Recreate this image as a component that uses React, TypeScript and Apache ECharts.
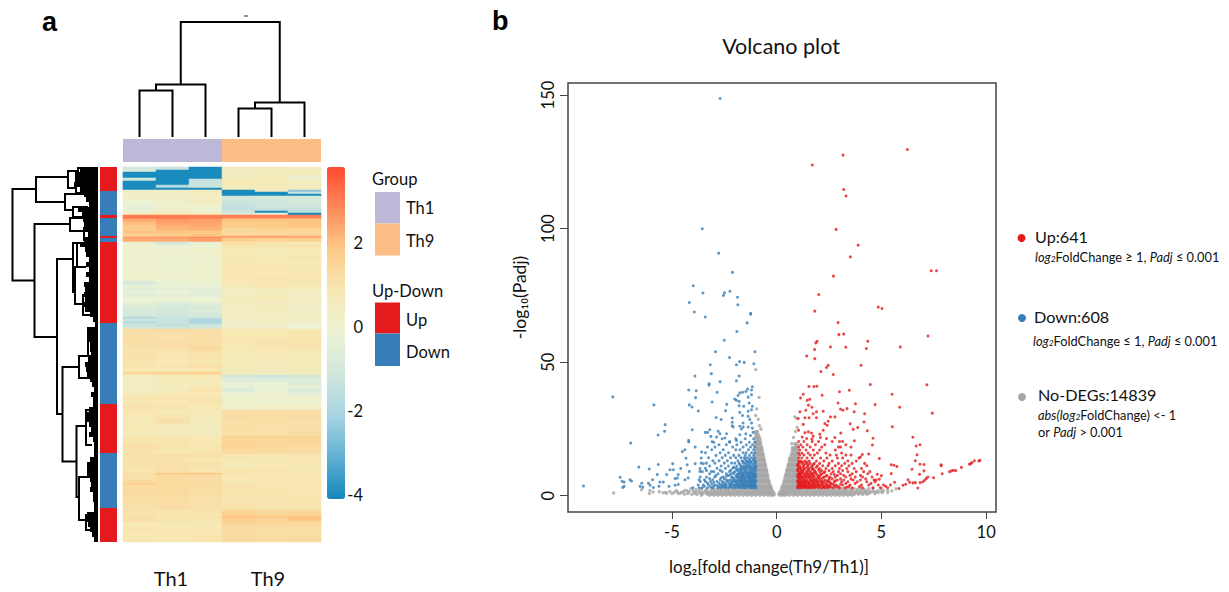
import React, { useEffect, useRef } from "react";
import * as echarts from "echarts";

const FONT = "Lato";
const sampleNames = ["Th1-1", "Th1-2", "Th1-3", "Th9-1", "Th9-2", "Th9-3"];
const groupColumns: [number, number, string][] = [[0, 3, "#bdb8d8"], [3, 6, "#fdbe85"]];
const rowSideRuns: [number, string][] = [[24, "Up"], [24, "Down"], [3, "Up"], [18, "Down"], [2, "Up"], [4, "Down"], [81, "Up"], [81, "Down"], [49, "Up"], [55, "Down"], [34, "Up"]];
const heatStops = ["#1387bc", "#5fb0d2", "#a6d3e2", "#cfe6dc", "#ecf3d5", "#f7e8b4", "#fdca88", "#fe8a5c", "#ff4a32"];

// [rows, six sample values]
const heatRuns: number[][] = [
  [3, -1, -1.3, -4, .6, .6, .5], [2, -.7, -4, -4, .5, .6, .5], [3, -4, -4, -4, .3, .4, .7], [3, -4, -4, -4, .6, .5, .1],
  [1, -.8, -4, -4, .5, .6, -.6], [2, -1.2, -4, -1.4, .7, .8, .2], [4, -4, -4, -1.3, .8, .7, .5], [3, -4, -1.8, -1.2, .6, .6, .5],
  [2, -4, -4, -4, .6, .6, .6], [2, .2, .4, .5, -4, .5, -2.5], [2, .1, .3, .5, -4, -4, -1.2], [2, .4, .4, .6, -4, -4, -4],
  [4, .2, .2, .3, -1, -.9, -1], [4, -.1, .2, .5, -1.2, -1.2, -.9], [4, -.3, .1, .1, -1.4, -1.1, -1.1], [3, -.4, .2, -.2, -1.4, -1.4, -1.4],
  [2, .1, .3, .4, -1.1, -4, -1.5], [2, .5, .7, .5, -.8, -.3, -4], [1, 3, 3, 2.9, 3, 3, 3.1], [2, 3.1, 3.1, 3, 3, 3, 3],
  [1, 3, 3, 3, 2.6, 2.6, 2.6], [3, 2.3, 2.6, 2.5, 1.9, 1.9, 1.9], [3, 2, 2.4, 2.4, 1.7, 1.8, 1.9], [3, 1.8, 2.2, 2.3, 1.8, 1.8, 1.9],
  [3, 1.7, 2.1, 2.2, 1.4, 1.5, 1.5], [3, 1.9, 1.9, 1.8, 1.3, 1.4, 1.4], [2, 1.6, 1.7, 1.9, 1.4, 1.4, 1.5], [1, 1.7, 1.8, 1.9, 2.4, 2.4, 2.3],
  [1, 2.6, 2.7, 2.9, 2.6, 2.6, 2.5], [4, 2.3, 2.3, 2.5, 1.7, 1.6, 1.7], [1, .1, -.6, -.1, 1.1, .6, .5], [2, 0, -1, -.4, 1.3, 1, .9],
  [3, 0, -.2, -.1, .9, .9, 1], [5, .1, .1, .2, .8, .7, .8], [3, -.1, 0, 0, .7, .7, .7], [4, .1, -.1, .1, .8, .8, .9],
  [3, 0, .1, -.1, .8, .7, .7], [5, .1, 0, .1, .9, .8, .8], [3, -.1, -.1, 0, .8, .9, .8], [4, .2, .1, .2, .9, .8, .9],
  [3, 0, 0, -.1, .8, .9, .9], [3, .1, -.1, .1, .9, 1, .9], [2, -.9, -.1, 0, .8, .8, .9], [2, -.8, -.3, -.3, .8, .9, .8],
  [3, -.3, -.3, -.2, .7, .8, .8], [3, -.5, -.4, -.5, .5, .6, .5], [3, -.4, -.2, -.4, .4, .5, .4], [3, -.6, -.4, -.5, .4, .5, .3],
  [3, -.1, 0, -.2, .6, .7, .6], [3, -.2, -.3, -.1, .5, .5, .4], [3, -.5, -.8, -.6, .4, .4, .4], [3, -.7, -.9, -.8, .5, .5, .3],
  [3, -.9, -1, -.7, .4, .6, .3], [3, -.8, -1, -.9, .3, .4, .3], [2, -1, -1.1, -1, .5, .3, .4], [2, -1.8, -1.2, -1.3, .5, .4, .4],
  [2, -1.1, -1.3, -1.9, .4, .4, .3], [3, -1.6, -1.3, -1.9, .1, .3, .2], [3, -1.2, -1.4, -1.2, .2, .1, -.2], [2, -1, -1.1, -1, .2, .2, -.1],
  [4, 1.2, 1.2, 1.2, .8, .8, .9], [5, 1.1, 1, 1.2, .8, .8, .9], [4, 1.2, 1.1, 1.1, .9, .9, 1], [5, 1.1, 1.2, 1.2, .8, 1, 1],
  [4, 1, 1.1, 1.3, .8, .8, .9], [4, 1, .9, 1, .6, .8, .7], [5, 1.1, .9, 1, .7, .7, .7], [4, .9, .8, .9, .6, .6, .7],
  [4, 1, .9, 1.1, .7, .6, .7], [4, .8, .8, .9, .6, .6, .6], [3, 1.4, 1.5, 1.5, .6, .6, .6], [3, .4, .7, .8, -1, -1.2, -1],
  [4, .5, .6, .7, -.6, -.7, -.6], [3, .3, .7, .6, -.4, -.2, -.7], [4, .5, .5, .8, -.3, -.3, -.4], [3, .4, .6, 1, -.8, -.1, -.8],
  [4, .6, .8, .8, -.2, -.1, -.5], [4, .9, 1, .9, 0, .1, .1], [4, .8, .8, 1, .1, 0, 0], [5, 1, .9, .8, .2, .2, .2],
  [1, .9, .9, .9, .2, .3, .2], [4, .9, .7, .7, 1.2, 1.2, 1.1], [5, .8, .9, .7, 1.2, 1.2, 1.2], [5, .7, 1.1, .6, 1.1, 1.2, 1.1],
  [6, .8, .6, .5, 1.2, 1.1, 1.1], [6, .7, .6, .6, 1.1, 1.1, 1.2], [2, .9, .9, .8, 1.6, 1.6, 1.5], [5, .9, .9, .8, 1.4, 1.4, 1.4],
  [6, 1.1, 1, .9, 1.5, 1.4, 1.3], [5, 1, .9, .9, 1.3, 1.3, 1.2], [4, 1.1, 1.1, 1.1, .9, .9, .9], [5, 1, 1, .9, .8, .8, .9],
  [5, 1, 1.1, 1, .7, .8, .8], [5, .9, 1.1, .9, .9, .9, .8], [1, 1.1, 1.9, 1.9, .9, .9, .9], [1, 1.1, 1.6, 1.7, .9, .8, .9],
  [5, 1.1, 1.3, 1.2, .8, .9, .9], [3, 1.3, 1.3, 1.2, .8, .9, .8], [2, 1.6, 1.3, 1.3, .9, .8, .9], [6, 1.2, 1.3, 1.2, 1, .9, .9],
  [6, 1.3, 1.3, 1.2, .9, 1, .9], [6, 1.2, 1.2, 1.1, .9, .9, 1], [7, 1.1, 1.2, 1.1, 1, .9, .9], [4, 1, .9, 1, 1.5, 1.4, 1.4],
  [2, 1, 1, .9, 1.6, 1.5, 1.5], [3, 1.1, .9, 1, 1.9, 1.8, 1.9], [2, 1.1, 1, .9, 1.5, 1.4, 1.9], [2, 1, .9, .9, 1.7, 1.5, 1.5],
  [3, .7, .7, .7, 1.4, 1.3, 1.3], [5, .9, .8, .8, 1.3, 1.2, 1.2], [6, .8, .9, .9, 1.2, 1.2, 1.2], [8, .9, .8, .9, 1.3, 1.2, 1.3],
];

const topMerges: number[][] = [[46.5, 0.5, 1.5, 0, 0], [52.5, 1, 2.5, 46.5, 0], [28.5, 3.5, 4.5, 0, 0], [34.5, 4, 5.5, 28.5, 0], [115, 1.75, 4.75, 52.5, 34.5]];

// [height, top row, bottom row, height of top child, height of bottom child]
const leftMerges: number[][] = [
  [85.5, 22, 113.5, 62, 63.5], [62, 10, 35, 30, 33], [30, 4, 21, 20, 22], [20, 1, 9, 8, 10], [22, 14, 26, 8, 8], [33, 27, 43, 12, 25], [25, 40, 50, 10, 10],
  [63.5, 57, 170, 28, 41], [28, 51, 64, 1, 14], [14, 61, 73, 5, 5], [41, 92, 247, 25, 35.5], [25, 76, 125, 21, 23], [21, 76, 100, 13, 12], [23, 100, 137, 12, 15], [15, 128, 148, 6, 6],
  [35.5, 200, 294.5, 19, 21.5], [19, 189, 211, 10, 8], [10, 161, 189, 5, 5], [21.5, 259, 330, 12, 19], [12, 243, 278, 6, 6], [19, 310, 353, 8, 12], [12, 348, 363, 5, 5],
];
// depth of the dense leaf tips, one value per 5 rows
const leafDepth = [18, 23, 23, 24, 18, 14, 12, 9, 20, 16, 15, 14, 15, 10, 14, 18, 13, 12, 9, 12, 9, 12, 9, 14, 13, 14, 13, 14, 13, 8, 5, 3, 10, 10, 10, 8, 8, 7, 10, 13, 12, 11, 8, 6, 4, 7, 5, 5, 9, 12, 12, 9, 7, 9, 5, 4, 4, 4, 8, 11, 11, 11, 8, 7, 8, 5, 5, 4, 4, 11, 12, 10, 8, 6, 4, 3];

const colorTicks = [-4, -2, 0, 2];
const volcanoXTicks = [-5, 0, 5, 10];
const volcanoYTicks = [0, 50, 100, 150];

const bluePoints: number[][] = [
  [-2.7, 148.7], [-3.55, 99.9], [-2.77, 90.8], [-2.11, 83.6], [-3.98, 78.6], [-3.52, 75.9], [-2.49, 76], [-2.54, 75], [-2.23, 76.5], [-1.87, 74.3], [-4.17, 72.3], [-1.85, 71.5], [-3.93, 68.8], [-3.41, 66.9], [-1.24, 68.3], [-1.24, 67.9],
  [-1.41, 64.7], [-1.9, 61.5], [-2.5, 58.2], [-2.92, 53.9], [-1.04, 53.9], [-2.25, 51.7], [-1.77, 50.2], [-1.55, 49.9], [-1.92, 49], [-1.09, 49.4], [-3.17, 49], [-3.12, 45.7], [-3.9, 44.8], [-1.79, 44.8], [-1.92, 43], [-2.7, 42.7], [-3.22, 41.9], [-3.23, 41.4], [-4.2, 39.6], [-3.84, 39.3], [-2.84, 38.7], [-3.87, 36.7], [-4.17, 34], [-4.04, 33.2], [-3.74, 31.7], [-3.08, 35.1], [-2.38, 34.2], [-2.44, 31.8], [-2.89, 29.3], [-2.65, 28.5], [-2.12, 29.1], [-2.12, 27.5], [-2.12, 26.2],
  [-9.22, 3.6], [-7.82, 37], [-6.97, 19.7], [-5.86, 34], [-5.32, 26.6], [-5.66, 22.7], [-5.35, 24.1], [-6.58, 10.7],
  [-7.47, 6.9], [-7.38, 5.4], [-7.28, 5.1], [-7.28, 3.5], [-7.35, 3.1], [-7, 6], [-6.93, 5.5], [-6.44, 4.7], [-6.52, 3.5], [-6.39, 3.2], [-6.12, 4.7], [-6.08, 10], [-5.65, 11.7], [-5.7, 7.9], [-5.92, 6], [-6.04, 3.9], [-5.89, 3.1], [-5.62, 3.5], [-5.41, 5.1], [-5.57, 5.1], [-5.25, 7.9], [-5.09, 9.7], [-4.93, 9.7], [-4.96, 12], [-4.58, 10.2], [-4.85, 6.4], [-4.74, 6.6], [-4.7, 7.9], [-5.14, 3.5], [-4.85, 3.9], [-4.7, 4.2], [-4.38, 6], [-4.22, 6.6], [-4.17, 9.1], [-4.27, 11.6], [-3.89, 12], [-4.33, 14], [-4.5, 16.5], [-4.38, 17.2], [-3.89, 18.2], [-4.2, 20.1], [-4.2, 20.7], [-4.03, 24.7], [-3.58, 16.4], [-3.6, 14.1], [-3.6, 12.2], [-3.5, 12], [-3.66, 10.2], [-3.66, 9.1], [-3.35, 9.4], [-3.11, 9.1], [-3.41, 23.7], [-3.3, 23.7], [-3.19, 24.7], [-3.14, 22.2], [-3.08, 20.2], [-2.87, 22], [-2.79, 24.1], [-2.71, 23.2], [-2.39, 23.2], [-2.47, 21.6], [-2.24, 20.3], [-1.92, 20.7],
  [-1.16, 40.8], [-1.2, 39.6], [-1.39, 39.9], [-1.47, 39], [-1.63, 38.7], [-1.76, 38.5], [-1.84, 37.5], [-2, 36.2], [-1.92, 35.7], [-1.79, 35.3], [-1.36, 36.9], [-1.2, 37.8], [-1.31, 34.7], [-1.57, 33.5], [-1.79, 33.7], [-1.16, 33.5], [-1.2, 32.2], [-1.36, 31.6], [-1.76, 31.2], [-1.63, 30], [-1.36, 29.7], [-1.28, 28.5], [-1.2, 27.2], [-1.6, 27.2], [-1.16, 25.3], [-1.36, 25.7], [-1.6, 25.7], [-1.76, 26], [-1.68, 25], [-1.47, 23.2], [-1.25, 22.5], [-1.76, 22.8], [-1.12, 23.7], [-2.08, 25.7],
];
const blueRows: [number, number[]][] = [
  [21.3, [-1.1, -1.5, -1.95, -2.6]], [20, [-1.05, -1.3, -1.7, -2.25, -3]], [19.1, [-1.15, -1.45, -1.9, -2.4, -2.75]], [18.2, [-1.05, -1.25, -1.6, -2.1, -2.95, -3.3]],
  [17.2, [-1.1, -1.35, -1.75, -1.95, -2.55, -3.1]], [16.1, [-1.05, -1.2, -1.45, -1.6, -2.3, -2.7, -3.4]], [15.1, [-1.1, -1.3, -1.5, -1.8, -2.05, -2.45, -2.9]],
  [14.2, [-1.05, -1.2, -1.4, -1.55, -1.7, -1.95, -2.2, -2.6, -3.25]], [13.1, [-1.05, -1.15, -1.3, -1.45, -1.65, -1.85, -2.35, -2.75, -3.05]],
  [12.2, [-1.05, -1.2, -1.35, -1.5, -1.6, -1.8, -2, -2.15, -2.5, -2.95, -3.35]], [11.1, [-1, -1.1, -1.25, -1.4, -1.55, -1.7, -1.9, -2.3, -2.65, -3.2]],
  [10.3, [-1.05, -1.15, -1.3, -1.45, -1.6, -1.75, -1.95, -2.1, -2.45, -2.85, -3.4]], [9.5, [-1, -1.25, -1.5, -1.7, -1.9, -2.2, -2.7]], [9, [-1.1, -1.2, -1.35, -1.5, -1.65, -1.8, -2, -2.25, -2.6, -3, -3.55]],
  [8.2, [-1.05, -1.15, -1.25, -1.4, -1.55, -1.7, -1.85, -2.05, -2.4, -2.8, -3.2]], [7.6, [-1.1, -1.35, -1.6, -1.8, -2.3, -2.9]], [7, [-1, -1.1, -1.2, -1.3, -1.45, -1.6, -1.75, -1.9, -2.15, -2.55, -2.95, -3.35, -3.65]],
  [6.4, [-1.05, -1.3, -1.55, -1.72, -2.05, -2.5, -3.2]], [6, [-1.15, -1.25, -1.35, -1.5, -1.65, -1.8, -1.95, -2.2, -2.4, -2.7, -3.05, -3.45, -3.7]],
  [5.3, [-1, -1.1, -1.2, -1.3, -1.45, -1.55, -1.7, -1.85, -2, -2.15, -2.35, -2.6, -2.85, -3.15, -3.4, -3.65]], [4.7, [-1.05, -1.25, -1.5, -1.65, -1.9, -2.25, -2.75, -3.3]],
  [4, [-1.05, -1.15, -1.25, -1.4, -1.5, -1.6, -1.75, -1.9, -2.05, -2.25, -2.5, -2.7, -2.95, -3.25, -3.5, -3.75]], [3.5, [-1.1, -1.35, -1.6, -1.85, -2.15, -2.4, -2.6, -3, -3.45]],
  [3, [-1, -1.1, -1.2, -1.3, -1.45, -1.55, -1.65, -1.8, -1.95, -2.1, -2.3, -2.45, -2.65, -2.8, -3.05, -3.3, -3.55, -3.7, -4]],
  [3.25, [-1.05, -1.2, -1.3, -1.5, -1.7, -1.8, -2, -2.25, -2.55, -2.75, -3.15]], [3.8, [-1, -1.2, -1.3, -1.45, -1.55, -1.7, -1.85, -2, -2.2, -2.45, -2.85]],
  [4.35, [-1.1, -1.2, -1.35, -1.45, -1.65, -1.8, -1.95, -2.15, -2.4, -2.6, -3.1]], [5, [-1.05, -1.15, -1.3, -1.4, -1.6, -1.75, -1.9, -2.1, -2.5, -3]],
  [5.65, [-1, -1.1, -1.2, -1.4, -1.55, -1.7, -1.85, -2.05, -2.3]], [6.7, [-1.15, -1.25, -1.4, -1.5, -1.65, -1.85, -2.1, -2.65]],
  [7.3, [-1.05, -1.2, -1.35, -1.55, -1.7, -1.95, -2.4]], [7.9, [-1, -1.15, -1.3, -1.45, -1.65, -1.9, -2.2]], [8.6, [-1.05, -1.2, -1.3, -1.45, -1.6, -1.75, -2.1]],
  [9.8, [-1.1, -1.2, -1.4, -1.55, -1.7, -1.85]], [10.7, [-1, -1.2, -1.35, -1.5, -1.65, -2.05]], [11.7, [-1.1, -1.3, -1.45, -1.75]], [12.7, [-1, -1.25, -1.4, -1.6]], [13.7, [-1.1, -1.3, -1.5]],
];

const redPoints: number[][] = [
  [6.24, 129.6], [3.17, 127.5], [1.7, 123.8], [3.2, 114.6], [3.31, 112.2], [2.84, 99.7], [3.89, 93.8], [3.52, 89.4], [7.38, 84.2], [7.63, 84.2], [2.71, 82.2], [2.01, 75.3], [4.85, 70.6], [5.03, 70.1], [1.82, 69.1],
  [2.93, 64.8], [2.97, 60.3], [3.2, 60.5], [1.93, 57.8], [1.87, 57.2], [4.35, 57.8], [7.22, 59.8], [1.81, 54.7], [2.57, 55.7], [3.3, 55.6], [4.28, 55.1], [5.9, 55.7], [1.43, 52.3], [1.82, 51.3], [2.46, 48.8], [2.38, 48], [2.11, 46.5], [2.7, 45.4], [4.03, 48.8], [4.47, 41.6], [7.17, 41.5], [1.54, 40.9], [1.78, 40.9], [1.92, 41], [1.27, 38], [1.14, 36.6], [1.46, 35.7], [1.58, 36.1], [2.17, 37.6], [3, 38.9], [3.47, 39.5], [5.51, 38], [2.93, 34.7], [3.76, 34.4], [4.7, 34.1], [5.87, 33.1], [7.43, 30.9], [1.52, 33.9], [1.68, 33.1], [3.05, 32.4], [3.17, 32], [3.36, 32.6], [3.7, 31.4], [4.2, 30.7], [4.17, 27.6], [3.51, 26.9], [5.52, 25.8], [3.87, 25.5], [3.65, 24.9], [4.33, 24.3], [6.5, 21.9], [6.66, 18.6], [6.84, 19.1], [4.6, 21.5], [4.57, 19], [3.71, 20.6], [6.7, 15.3], [6.62, 13.1], [4.9, 13.9], [4.39, 15.6], [4.09, 15.4], [4, 14.5], [3.93, 14.1], [6.84, 11.8], [7.03, 11.7], [7.85, 11.6], [7.85, 11.2], [5.47, 11.6], [5.6, 11.4], [5.74, 10.9], [6.46, 9.9], [5.47, 8.3], [6.82, 8], [7.9, 8.2], [7.03, 9.3], [7.22, 7], [7.14, 6.4], [7.06, 5.8], [7.49, 6.7], [8.25, 9], [8.35, 9.3], [8.44, 9.5], [8.55, 9.4], [8.82, 10.6], [9.2, 11.8], [9.27, 12], [9.32, 12.4], [9.44, 13.1], [9.65, 13], [9.71, 13.3],
  [5.63, 5], [5.43, 4], [5.84, 2.7], [6.03, 3.9], [6.16, 4.3], [6.27, 6], [6.35, 5], [6.51, 4.8], [6.62, 4.9], [6.74, 2.9], [6.85, 4.9], [6.98, 5.2], [5.1, 4], [5.0, 7.5], [4.8, 8], [4.75, 5.9], [4.9, 6.2], [5.2, 3.5],
  [2.22, 31.6], [1.9, 31.4], [1.11, 31.4], [1.39, 32], [1.74, 30.7], [1.03, 28.9], [1.35, 29.2], [1.55, 29.2], [1.27, 26.7], [1.9, 29.2], [2.3, 27], [2.46, 27.9], [2.57, 29.5], [2.78, 29.5], [2.41, 26.4], [2.22, 24.5], [2.06, 23], [1.74, 22.3], [1.05, 24.5], [1.51, 23.9], [1.35, 23.6], [1.66, 23.5], [1.22, 22], [1.43, 21.4], [1.68, 21.2], [2.09, 21.8], [2.38, 21.4], [2.78, 21.8], [3.06, 23.5],
];
const redRows: [number, number[]][] = [
  [20.3, [1.05, 1.3, 1.7, 2, 2.65, 3, 3.15]], [19.1, [1.15, 1.45, 1.85, 2.3, 3.3]], [18.2, [1.05, 1.25, 1.6, 2.15, 2.95, 3.05, 3.55]], [17.1, [1.1, 1.4, 1.75, 2.05, 2.8]],
  [16, [1.05, 1.2, 1.5, 1.95, 2.35, 3.1]], [15.2, [1.1, 1.3, 1.6, 1.8, 2.55, 2.85, 3.3, 3.55]], [14.1, [1.05, 1.2, 1.45, 1.7, 2.1, 2.4, 2.9, 3.15]], [13, [1.05, 1.15, 1.35, 1.55, 1.9, 2.25, 2.65, 3.4, 3.8]],
  [12.1, [1.05, 1.2, 1.4, 1.6, 1.8, 2.05, 2.5, 2.95, 3.25, 3.6, 4.2]], [11.2, [1, 1.1, 1.3, 1.5, 1.7, 1.95, 2.2, 2.45, 2.8, 3.1, 3.45, 4.3]], [10.2, [1.05, 1.15, 1.35, 1.55, 1.75, 2.05, 2.35, 2.65, 3, 3.35, 3.7, 4.05]],
  [9.4, [1, 1.25, 1.5, 1.8, 2.15, 2.5, 3.15]], [9, [1.1, 1.2, 1.4, 1.6, 1.85, 2.05, 2.3, 2.7, 2.95, 3.4, 3.8, 4.15, 4.45]], [8.2, [1.05, 1.15, 1.3, 1.5, 1.7, 1.9, 2.15, 2.6, 3.05, 3.6, 4.35]],
  [7.6, [1.1, 1.35, 1.65, 1.95, 2.4, 2.9, 3.2, 3.5, 4]], [7, [1, 1.1, 1.2, 1.4, 1.55, 1.75, 2, 2.25, 2.55, 2.8, 3.3, 3.75, 4.1, 4.55]], [6.3, [1.05, 1.3, 1.6, 1.85, 2.1, 2.65, 3.05, 3.55, 4.25]],
  [5.9, [1.15, 1.25, 1.45, 1.65, 1.8, 2, 2.3, 2.5, 2.9, 3.2, 3.65, 4, 4.65]], [5.2, [1, 1.1, 1.2, 1.35, 1.5, 1.7, 1.9, 2.05, 2.2, 2.45, 2.75, 3.1, 3.4, 3.85, 4.3, 4.7]], [4.6, [1.05, 1.3, 1.55, 1.8, 2.15, 2.6, 3.3, 3.75, 4.5]],
  [4, [1.05, 1.15, 1.25, 1.4, 1.6, 1.75, 1.95, 2.1, 2.35, 2.55, 2.85, 3.15, 3.5, 4.05, 4.4, 4.85]], [3.4, [1.1, 1.35, 1.5, 1.7, 1.9, 2.25, 2.5, 2.95, 3.45, 3.95]],
  [3, [1, 1.1, 1.2, 1.3, 1.45, 1.55, 1.65, 1.8, 2, 2.15, 2.3, 2.45, 2.7, 3, 3.25, 3.6, 4.1, 4.6, 4.95, 5.3]],
  [3.25, [1.05, 1.2, 1.35, 1.5, 1.7, 1.85, 2.05, 2.2, 2.4, 2.6, 2.85, 3.35]], [3.75, [1, 1.15, 1.3, 1.45, 1.6, 1.8, 2, 2.25, 2.45, 2.75]],
  [4.3, [1.1, 1.2, 1.35, 1.5, 1.65, 1.85, 2, 2.2, 2.4, 2.7, 3.05]], [4.95, [1.05, 1.15, 1.25, 1.4, 1.55, 1.75, 1.95, 2.3, 2.55]],
  [5.55, [1, 1.1, 1.3, 1.4, 1.6, 1.75, 1.9, 2.15, 2.4, 2.8]], [6.65, [1.1, 1.2, 1.35, 1.5, 1.7, 1.95, 2.2, 2.5]],
  [7.3, [1.05, 1.25, 1.45, 1.6, 1.8, 2.05, 2.35]], [7.9, [1, 1.15, 1.4, 1.55, 1.75, 2.1, 2.75]], [8.6, [1.1, 1.25, 1.45, 1.65, 1.8, 2.25]],
  [9.8, [1, 1.15, 1.3, 1.5, 1.7, 2]], [10.7, [1.1, 1.25, 1.45, 1.65, 1.9]], [11.7, [1, 1.3, 1.5, 1.75]], [12.6, [1.1, 1.25, 1.45]],
];

const grayPoints: number[][] = [
  [-1, 47.2], [-.84, 36.8], [-.95, 32.5], [-1.0, 30], [-.88, 28.6], [-.82, 26.2], [-.75, 25], [.87, 29.5], [.95, 29], [.98, 25.5], [.9, 24], [.8, 21.8], [.72, 19.5], [-7.78, 1], [-6.45, 2.2], [-6.05, 2], [-6.08, .8], [-5.9, 1.4], [-5.6, 1.5], [-5.42, 1.1], [-5.25, .9], [-5.1, 1.6], [-5, .8], [-4.75, 1.6], [-4.6, .9], [-4.45, 1.4], [-4.3, 2], [5.3, 2], [5.5, 1.8], [5.7, 2.6], [4.4, 2.6], [4.6, 2.8], [5, 2.7],
];
const grayRows: [number, number[]][] = [
  [24, [-1, -.96, -.92]], [23, [-1, -.94, -.88]], [22, [-1, -.94, -.88, -.82]], [21, [-1, -.92, -.85, -.78]], [20, [-1, -.93, -.85, -.76]], [19, [-1, -.92, -.84, -.75, .98, .9]], [18, [-1, -.92, -.84, -.75, -.7, .98, .9, .82, .75]],
  [17, [-1, -.92, -.84, -.75, -.68, .98, .9, .82, .74]], [16, [-1, -.92, -.84, -.75, -.66, .98, .9, .82, .72]], [15, [-1, -.9, -.8, -.7, -.63, .98, .88, .78, .68]], [14, [-1, -.9, -.8, -.7, -.6, .98, .88, .78, .68, .62]], [13, [-1, -.9, -.8, -.7, -.6, -.58, .98, .88, .78, .68, .6]],
  [12, [-1, -.9, -.8, -.7, -.6, -.55, .98, .88, .78, .68, .58]], [11, [-1, -.9, -.8, -.7, -.6, -.52, .98, .88, .78, .68, .58, .54]], [10, [-1, -.9, -.8, -.7, -.6, -.5, .98, .88, .78, .68, .58, .5]], [9, [-1, -.9, -.8, -.7, -.6, -.5, -.47, .98, .88, .78, .68, .58, .48]],
  [8, [-1, -.9, -.8, -.7, -.6, -.5, -.44, .98, .88, .78, .68, .58, .48, .44]], [7, [-1, -.9, -.8, -.7, -.6, -.5, -.41, .98, .88, .78, .68, .58, .48, .4]], [6, [-1, -.9, -.8, -.7, -.6, -.5, -.4, .98, .88, .78, .68, .58, .48, .38]],
  [5, [-1, -.9, -.8, -.7, -.6, -.5, -.4, -.35, .98, .88, .78, .68, .58, .48, .38, .34]], [4, [-1, -.9, -.8, -.7, -.6, -.5, -.4, -.31, .98, .88, .78, .68, .58, .48, .38, .3]], [3, [-1, -.9, -.8, -.7, -.6, -.5, -.4, -.3, -.26, .98, .88, .78, .68, .58, .48, .38, .28, .25]],
  [19.5, [-.95, -.88, -.8, .94, .86]], [17.5, [-.96, -.88, -.8, -.72, .94, .86, .78]], [15.5, [-.95, -.85, -.75, -.66, .93, .83, .73]], [13.5, [-.95, -.85, -.75, -.65, .93, .83, .73, .63]], [11.5, [-.95, -.85, -.75, -.65, -.56, .93, .83, .73, .63, .56]],
  [9.5, [-.95, -.85, -.75, -.65, -.55, -.49, .93, .83, .73, .63, .53, .49]], [7.5, [-.95, -.85, -.75, -.65, -.55, -.45, .93, .83, .73, .63, .53, .43]], [5.5, [-.95, -.85, -.75, -.65, -.55, -.45, -.37, .93, .83, .73, .63, .53, .43, .36]], [3.5, [-.95, -.85, -.75, -.65, -.55, -.45, -.35, -.29, .93, .83, .73, .63, .53, .43, .33, .28]],
  [2.6, [-4.1, -3.6, -3.1, -2.8, -2.5, -2.2, -1.9, -1.6, -1.3, -1.05, -.85, -.65, -.45, -.25, .25, .45, .65, .85, 1.05, 1.3, 1.6, 1.9, 2.2, 2.5, 2.8, 3.1, 3.4, 3.7, 4]],
  [2.3, [-3.85, -3.35, -2.95, -2.65, -2.35, -2.05, -1.75, -1.45, -1.15, -.95, -.75, -.55, -.35, .35, .55, .75, .95, 1.15, 1.45, 1.75, 2.05, 2.35, 2.65, 2.95, 3.25, 3.55, 3.85, 4.2]],
  [1.9, [-4.8, -4.4, -4, -3.7, -3.4, -3.15, -2.95, -2.75, -2.55, -2.35, -2.15, -1.95, -1.75, -1.55, -1.35, -1.15, -.95, -.75, -.55, -.35, -.2, .2, .35, .55, .75, .95, 1.15, 1.35, 1.55, 1.75, 1.95, 2.15, 2.35, 2.55, 2.75, 2.95, 3.15, 3.35, 3.6, 3.85, 4.1, 4.35, 4.6, 4.85, 5.1]],
  [1.5, [-4.2, -3.85, -3.55, -3.3, -3.05, -2.85, -2.65, -2.45, -2.25, -2.05, -1.85, -1.65, -1.45, -1.25, -1.05, -.85, -.65, -.45, -.28, .28, .45, .65, .85, 1.05, 1.25, 1.45, 1.65, 1.85, 2.05, 2.25, 2.45, 2.65, 2.85, 3.05, 3.25, 3.5, 3.75, 4, 4.25, 4.5, 4.75, 5]],
  [1.2, [-5.3, -4.9, -4.55, -4.2, -3.95, -3.7, -3.45, -3.25, -3.05, -2.85, -2.65, -2.45, -2.25, -2.05, -1.85, -1.65, -1.45, -1.25, -1.05, -.85, -.65, -.45, -.3, -.14, .14, .3, .45, .65, .85, 1.05, 1.25, 1.45, 1.65, 1.85, 2.05, 2.25, 2.45, 2.65, 2.85, 3.05, 3.25, 3.45, 3.65, 3.85, 4.05, 4.25, 4.45, 4.65, 4.85, 5.05, 5.3]],
  [.85, [-4.7, -4.25, -3.9, -3.6, -3.35, -3.15, -2.95, -2.75, -2.55, -2.35, -2.15, -1.95, -1.75, -1.55, -1.35, -1.15, -.95, -.75, -.55, -.38, -.22, .22, .38, .55, .75, .95, 1.15, 1.35, 1.55, 1.75, 1.95, 2.15, 2.35, 2.55, 2.75, 2.95, 3.15, 3.35, 3.55, 3.75, 3.95, 4.15, 4.4, 4.7]],
  [.5, [-4.4, -4.05, -3.8, -3.55, -3.3, -3.1, -2.9, -2.7, -2.5, -2.3, -2.1, -1.9, -1.7, -1.5, -1.3, -1.1, -.9, -.7, -.5, -.35, -.22, -.1, .1, .22, .35, .5, .7, .9, 1.1, 1.3, 1.5, 1.7, 1.9, 2.1, 2.3, 2.5, 2.7, 2.9, 3.1, 3.3, 3.5, 3.7, 3.9, 4.1, 4.3]],
  [.15, [-3.6, -3.2, -3, -2.8, -2.6, -2.4, -2.2, -2, -1.8, -1.6, -1.4, -1.2, -1, -.8, -.6, -.42, -.28, -.16, .16, .28, .42, .6, .8, 1, 1.2, 1.4, 1.6, 1.8, 2, 2.2, 2.4, 2.6, 2.8, 3, 3.2, 3.4, 3.6]],
];

const legendDots = [
  { label: "Up:641", color: "#e41a1c", dot: [1021.5, 238], text: [1035, 236] },
  { label: "Down:608", color: "#377eb8", dot: [1022, 318], text: [1034, 316] },
  { label: "No-DEGs:14839", color: "#a6a6a6", dot: [1022, 397], text: [1038, 394] },
];
const legendNotes: [string, number, number][] = [
  ["{i|log}{s|2}{n|FoldChange ≥ 1, }{i|Padj}{n| ≤ 0.001}", 1035, 257],
  ["{i|log}{s|2}{n|FoldChange ≤ 1, }{i|Padj}{n| ≤ 0.001}", 1033, 341],
  ["{i|abs(log}{s|2}{n|FoldChange) <- 1}", 1038, 415],
  ["{n|or }{i|Padj}{n| > 0.001}", 1038, 432],
];

const flatten = (rows: [number, number[]][]) => rows.flatMap(([y, xs]) => xs.map((x) => [x, y]));

function buildOption() {
  const heatData: number[][] = [];
  let row = 0;
  heatRuns.forEach(([n, ...vals]) => {
    for (let i = 0; i < n && row < 375; i++, row++) vals.forEach((v, c) => heatData.push([c, row, v]));
  });
  while (row < 375) {
    const last = heatRuns[heatRuns.length - 1].slice(1);
    last.forEach((v, c) => heatData.push([c, row, v]));
    row++;
  }
  const rowLabels = Array.from({ length: 375 }, (_, i) => String(i));
  let start = 0;
  const sideData = rowSideRuns.map(([n, kind]) => {
    const d = [start, start + n, kind === "Up" ? 1 : 0];
    start += n;
    return d;
  });

  const hidX = (gridIndex: number, min: number, max: number, inverse = false) => ({ type: "value", gridIndex, min, max, inverse, show: false });
  const hidY = (gridIndex: number, min: number, max: number, inverse = false) => ({ type: "value", gridIndex, min, max, inverse, show: false });
  const lineStyle = { stroke: "#000", lineWidth: 2, fill: "none" };

  const text = (t: string, x: number, y: number, size: number, extra: any = {}) => ({
    type: "text", x, y, style: { text: t, fontFamily: FONT, fontSize: size, fill: "#111", verticalAlign: "middle", ...extra },
  });
  const swatch = (x: number, y: number, h: number, fill: string) => ({ type: "rect", shape: { x, y, width: 25, height: h }, style: { fill } });

  return {
    animation: false,
    backgroundColor: "#fff",
    grid: [
      { left: 123, top: 167, width: 198, height: 375 },
      { left: 100, top: 167, width: 17, height: 375 },
      { left: 123, top: 139, width: 198, height: 23 },
      { left: 123, top: 22, width: 198, height: 115 },
      { left: 12, top: 167, width: 86, height: 375 },
      { left: 327, top: 167, width: 18, height: 332 },
      { left: 568, top: 83, width: 428, height: 429, show: true, borderColor: "#444", borderWidth: 1.5, backgroundColor: "#fff" },
    ],
    xAxis: [
      { type: "category", gridIndex: 0, data: sampleNames, show: false },
      hidX(1, 0, 1), hidX(2, 0, 6), hidX(3, 0, 6), hidX(4, 0, 86, true), hidX(5, 0, 1),
      {
        type: "value", gridIndex: 6, min: -9.96, max: 10.47, position: "bottom", splitLine: { show: false },
        axisLine: { show: false, onZero: false }, axisTick: { show: true, length: 7, customValues: volcanoXTicks, lineStyle: { color: "#444", width: 1 } },
        axisLabel: { customValues: volcanoXTicks, margin: 11, fontFamily: FONT, fontSize: 16.5, color: "#111" },
        name: "log₂[fold change(Th9/Th1)]", nameLocation: "middle", nameGap: 46,
        nameTextStyle: { fontFamily: FONT, fontSize: 17, color: "#111", padding: [0, 26, 0, 0] },
      },
    ],
    yAxis: [
      { type: "category", gridIndex: 0, data: rowLabels, inverse: true, show: false },
      hidY(1, 0, 375, true), hidY(2, 0, 1), hidY(3, 0, 115), hidY(4, 0, 375, true),
      {
        type: "value", gridIndex: 5, min: -4.1, max: 3.8, position: "right", splitLine: { show: false },
        axisLine: { show: false, onZero: false }, axisTick: { show: false },
        axisLabel: { customValues: colorTicks, align: "right", margin: 18, fontFamily: FONT, fontSize: 16.5, color: "#111" },
      },
      {
        type: "value", gridIndex: 6, min: -6.1, max: 154.5, position: "left", splitLine: { show: false },
        axisLine: { show: false, onZero: false }, axisTick: { show: true, length: 8, customValues: volcanoYTicks, lineStyle: { color: "#444", width: 1 } },
        axisLabel: { customValues: volcanoYTicks, rotate: 90, margin: 12, fontFamily: FONT, fontSize: 16.5, color: "#111" },
        name: "-log₁₀(Padj)", nameLocation: "middle", nameRotate: 90, nameGap: 40, nameTextStyle: { fontFamily: FONT, fontSize: 17.5, color: "#111" },
      },
    ],
    visualMap: {
      type: "continuous", min: -4.1, max: 3.8, seriesIndex: 0, dimension: 2, calculable: false, realtime: false, hoverLink: false,
      left: 327, top: 167, itemWidth: 18, itemHeight: 332, padding: 0, text: ["", ""], textGap: 0, showLabel: false, handleSize: 0, indicatorSize: 0,
      inRange: { color: heatStops },
    },
    series: [
      { type: "heatmap", xAxisIndex: 0, yAxisIndex: 0, data: heatData, progressive: 0, silent: true, itemStyle: { borderWidth: 0 } },
      {
        type: "custom", xAxisIndex: 1, yAxisIndex: 1, data: sideData, silent: true,
        renderItem: (_: any, api: any) => {
          const a = api.coord([0, api.value(0)]);
          const b = api.coord([1, api.value(1)]);
          return { type: "rect", shape: { x: a[0], y: a[1], width: b[0] - a[0], height: b[1] - a[1] }, style: { fill: api.value(2) ? "#e41a1c" : "#377eb8" } };
        },
      },
      {
        type: "custom", xAxisIndex: 2, yAxisIndex: 2, data: groupColumns.map((g, i) => [g[0], g[1], i]), silent: true,
        renderItem: (_: any, api: any) => {
          const a = api.coord([api.value(0), 1]);
          const b = api.coord([api.value(1), 0]);
          return { type: "rect", shape: { x: a[0], y: a[1], width: b[0] - a[0], height: b[1] - a[1] }, style: { fill: groupColumns[api.value(2)][2] } };
        },
      },
      {
        type: "custom", xAxisIndex: 3, yAxisIndex: 3, data: topMerges, silent: true,
        renderItem: (_: any, api: any) => {
          const [h, x1, x2, h1, h2] = [0, 1, 2, 3, 4].map((i) => api.value(i));
          return { type: "polyline", shape: { points: [api.coord([x1, h1]), api.coord([x1, h]), api.coord([x2, h]), api.coord([x2, h2])] }, style: lineStyle };
        },
      },
      {
        type: "custom", xAxisIndex: 4, yAxisIndex: 4, data: leftMerges, silent: true,
        renderItem: (_: any, api: any) => {
          const [h, r1, r2, h1, h2] = [0, 1, 2, 3, 4].map((i) => api.value(i));
          return { type: "polyline", shape: { points: [api.coord([h1, r1]), api.coord([h, r1]), api.coord([h, r2]), api.coord([h2, r2])] }, style: lineStyle };
        },
      },
      {
        type: "custom", xAxisIndex: 4, yAxisIndex: 4, data: leafDepth.map((d, i) => [d, i * 5]), silent: true,
        renderItem: (_: any, api: any) => {
          const a = api.coord([api.value(0), api.value(1)]);
          const b = api.coord([0, Math.min(375, api.value(1) + 5)]);
          return { type: "rect", shape: { x: a[0], y: a[1], width: b[0] - a[0], height: b[1] - a[1] }, style: { fill: "#000" } };
        },
      },
      { type: "scatter", xAxisIndex: 6, yAxisIndex: 6, data: [...flatten(grayRows), ...grayPoints], symbolSize: 3.4, silent: true, itemStyle: { color: "#a6a6a6" } },
      { type: "scatter", xAxisIndex: 6, yAxisIndex: 6, data: [...flatten(blueRows), ...bluePoints], symbolSize: 3, silent: true, itemStyle: { color: "#377eb8" } },
      { type: "scatter", xAxisIndex: 6, yAxisIndex: 6, data: [...flatten(redRows), ...redPoints], symbolSize: 3, silent: true, itemStyle: { color: "#e41a1c" } },
    ],
    graphic: [
      text("a", 42, 22, 27, { fontFamily: "Liberation Sans", fontWeight: "bold", fill: "#000" }),
      text("b", 492, 21, 27, { fontFamily: "Liberation Sans", fontWeight: "bold", fill: "#000" }),
      { type: "line", shape: { x1: 244, y1: 16, x2: 248, y2: 16 }, style: { stroke: "#222", lineWidth: 1 } },
      text("Th1", 171, 578, 20, { align: "center" }),
      text("Th9", 268, 578, 20, { align: "center" }),
      text("Group", 372, 179, 16.5),
      swatch(375, 192, 31.5, "#bdb8d8"), swatch(375, 223.5, 32, "#fdbe85"),
      text("Th1", 406, 208, 16.5), text("Th9", 406, 241, 16.5),
      text("Up-Down", 372, 291, 16.5),
      swatch(375, 302.5, 31, "#e41a1c"), swatch(375, 333.5, 32.5, "#377eb8"),
      text("Up", 406, 320, 16.5), text("Down", 406, 352, 16.5),
      text("Volcano plot", 781, 46, 21.5, { align: "center" }),
      ...legendDots.flatMap((d) => [
        { type: "circle", shape: { cx: d.dot[0], cy: d.dot[1], r: 4 }, style: { fill: d.color } },
        text(d.label, d.text[0], d.text[1], 16.2),
      ]),
      ...legendNotes.map(([t, x, y]) => ({
        type: "text", x, y,
        style: {
          text: t, verticalAlign: "middle", fontFamily: FONT, fontSize: 12.8, fill: "#111",
          rich: {
            n: { fontFamily: FONT, fontSize: 12.8, fill: "#111" },
            i: { fontFamily: FONT, fontSize: 12.8, fontStyle: "italic", fill: "#111" },
            s: { fontFamily: FONT, fontSize: 8.5, fontStyle: "italic", fill: "#111", verticalAlign: "bottom" },
          },
        },
      })),
    ],
  };
}

export default function App() {
  const ref = useRef<HTMLDivElement>(null);
  useEffect(() => {
    const chart = echarts.init(ref.current!, undefined, { renderer: "svg" });
    chart.setOption(buildOption() as any);
    return () => chart.dispose();
  }, []);
  return <div ref={ref} style={{ position: "fixed", left: 0, top: 0, width: 1229, height: 592 }} />;
}
